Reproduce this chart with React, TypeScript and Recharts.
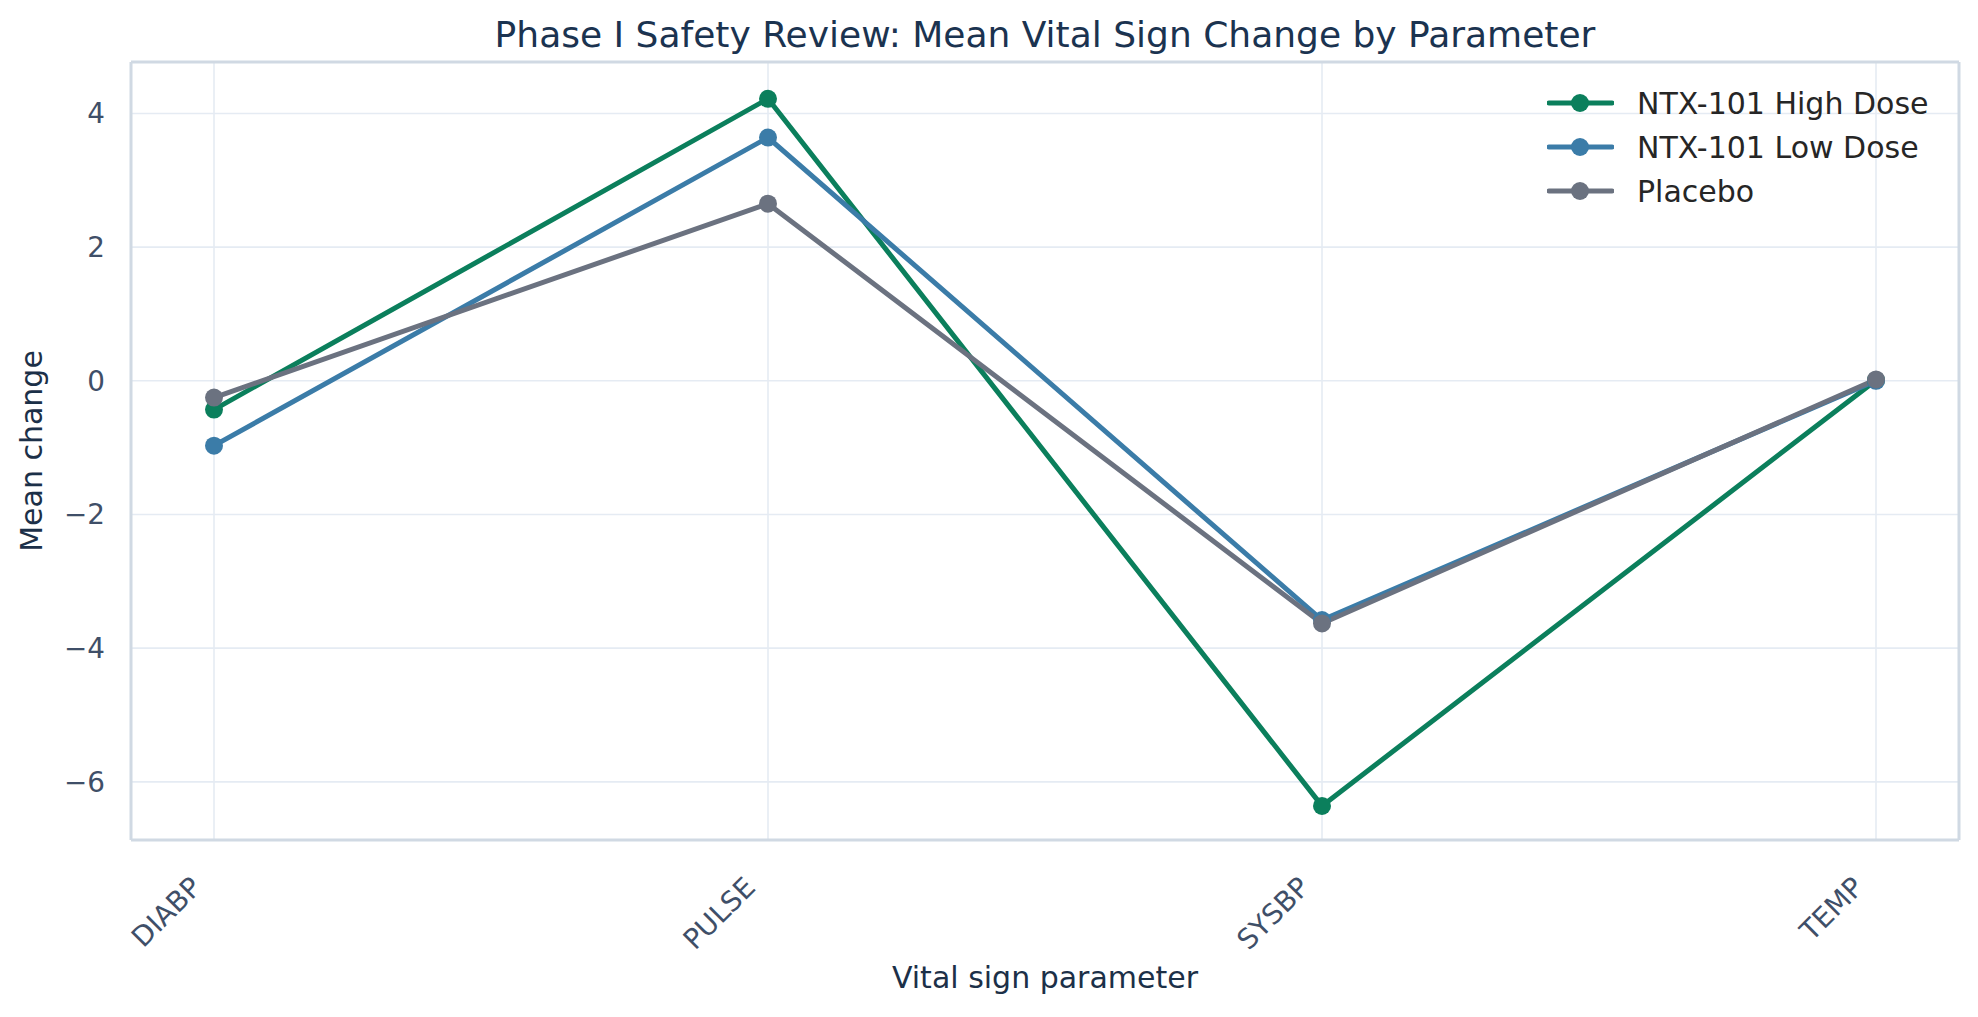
import { LineChart, Line, XAxis, YAxis, CartesianGrid, Legend } from "recharts";

const params = ["DIABP", "PULSE", "SYSBP", "TEMP"];
const highDose = [-0.43, 4.22, -6.36, 0.01];
const lowDose = [-0.97, 3.64, -3.58, 0.0];
const placebo = [-0.25, 2.65, -3.63, 0.02];
const yTicks = [-6, -4, -2, 0, 2, 4];

const series = [
  { key: "high", name: "NTX-101 High Dose", color: "#0b7f5c" },
  { key: "low", name: "NTX-101 Low Dose", color: "#3b7ca8" },
  { key: "placebo", name: "Placebo", color: "#6b7280" },
];

const data = params.map((p, i) => ({
  param: p,
  high: highDose[i],
  low: lowDose[i],
  placebo: placebo[i],
}));

const font = "'DejaVu Sans', sans-serif";
const tickColor = "#3f4f68";
const labelColor = "#1c3048";
const frameColor = "#d0d9e3";

const minus = (v: number) => String(v).replace("-", "\u2212");

const XTick = (props: any) => {
  const { x, y, payload } = props;
  return (
    <text
      transform={`translate(${x - 11},${y + 49}) rotate(-45)`}
      textAnchor="end"
      fill={tickColor}
      fontSize={27.8}
      fontFamily={font}
    >
      {payload.value}
    </text>
  );
};

const renderLegend = () => (
  <div style={{ fontFamily: font, fontSize: 30, color: "#262626" }}>
    {series.map((s) => (
      <div
        key={s.key}
        style={{ display: "flex", alignItems: "center", height: 44 }}
      >
        <svg width={67} height={22}>
          <line
            x1={2}
            y1={11}
            x2={65}
            y2={11}
            stroke={s.color}
            strokeWidth={5}
            strokeLinecap="round"
          />
          <circle cx={33} cy={11} r={9} fill={s.color} />
        </svg>
        <span style={{ marginLeft: 23, whiteSpace: "nowrap" }}>{s.name}</span>
      </div>
    ))}
  </div>
);

export default function App() {
  return (
    <div style={{ position: "relative", width: 1978, height: 1017, background: "#fff" }}>
      <style>{`body{margin:0}`}</style>
      <div
        style={{
          position: "absolute",
          left: 131,
          width: 1828,
          top: 14,
          lineHeight: "42px",
          textAlign: "center",
          fontFamily: font,
          fontSize: 36,
          color: "#1b3350",
        }}
      >
        Phase I Safety Review: Mean Vital Sign Change by Parameter
      </div>
      <LineChart
        width={1978}
        height={1017}
        data={data}
        margin={{ top: 61, right: 18, bottom: 17, left: 31 }}
      >
        <CartesianGrid stroke="#e5ebf3" strokeWidth={1.6} />
        <XAxis
          dataKey="param"
          height={160}
          padding={{ left: 83, right: 83 }}
          tick={<XTick />}
          tickLine={false}
          tickSize={0}
          tickMargin={0}
          interval={0}
          axisLine={{ stroke: frameColor, strokeWidth: 3 }}
          label={{
            value: "Vital sign parameter",
            position: "insideBottom",
            offset: 12,
            style: { fill: labelColor, fontSize: 30, fontFamily: font },
          }}
        />
        <XAxis
          xAxisId="top"
          dataKey="param"
          orientation="top"
          height={1}
          tick={false}
          tickLine={false}
          axisLine={{ stroke: frameColor, strokeWidth: 3 }}
        />
        <YAxis
          width={100}
          domain={[-6.87, 4.77]}
          ticks={yTicks}
          allowDataOverflow
          interval={0}
          tickLine={false}
          tickSize={0}
          tickMargin={26}
          tickFormatter={minus}
          tick={{ fill: tickColor, fontSize: 27.8, fontFamily: font }}
          axisLine={{ stroke: frameColor, strokeWidth: 3 }}
          label={{
            value: "Mean change",
            angle: -90,
            position: "inside",
            dx: -50,
            style: { fill: labelColor, fontSize: 30, fontFamily: font, textAnchor: "middle" },
          }}
        />
        <YAxis
          yAxisId="right"
          orientation="right"
          width={1}
          domain={[-6.87, 4.77]}
          tick={false}
          tickLine={false}
          axisLine={{ stroke: frameColor, strokeWidth: 3 }}
        />
        <Legend
          layout="vertical"
          align="center"
          verticalAlign="middle"
          content={renderLegend}
          wrapperStyle={{ left: 1547, top: 81, width: 420 }}
        />
        {series.map((s) => (
          <Line
            key={s.key}
            dataKey={s.key}
            name={s.name}
            stroke={s.color}
            strokeWidth={5}
            dot={{ r: 9, fill: s.color, stroke: s.color, strokeWidth: 0 }}
            activeDot={false}
            isAnimationActive={false}
          />
        ))}
      </LineChart>
    </div>
  );
}
